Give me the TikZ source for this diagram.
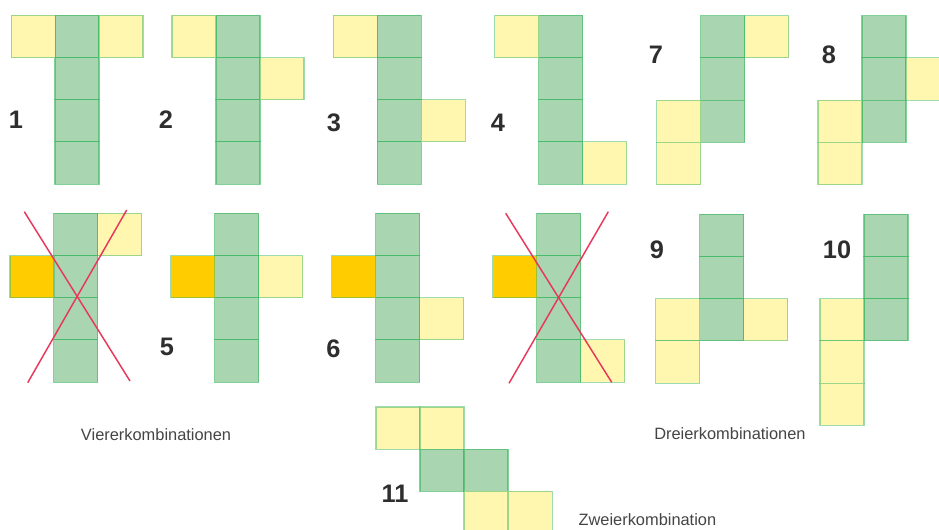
\documentclass[tikz,border=0pt]{standalone}
\usepackage{fontspec}
\setmainfont{Liberation Sans}
\definecolor{gfill}{HTML}{A9D5B0}
\definecolor{yfill}{HTML}{FFF6B0}
\definecolor{ofill}{HTML}{FFCC00}
\definecolor{edge}{HTML}{3DB862}
\definecolor{xred}{HTML}{E8385A}
\definecolor{numcol}{HTML}{2E2E2E}
\definecolor{capcol}{HTML}{444444}
\tikzset{
  gcell/.style={fill=gfill,draw=edge,draw opacity=0.65,line width=0.8pt},
  ycell/.style={fill=yfill,draw=edge,draw opacity=0.5,line width=0.8pt},
  ocell/.style={fill=ofill,draw=edge,draw opacity=0.5,line width=0.8pt},
  xline/.style={draw=xred,line width=1.1pt},
  num/.style={font=\fontsize{19}{19}\selectfont\bfseries,text=numcol,inner sep=0pt},
  captxt/.style={font=\fontsize{12.3}{14}\selectfont,text=capcol,inner sep=0pt,anchor=west}
}
\newcommand{\sq}[3]{\draw[#1] (#2,#3) rectangle ++(44,42.2);}
\begin{document}
\begin{tikzpicture}[x=0.75pt,y=-0.75pt]
\useasboundingbox (0,0) rectangle (939,529);
\clip (0,0) rectangle (939,529);
% shape 1
\foreach \r in {15.3,57.5,99.7,141.9} {\sq{gcell}{55}{\r}}
\sq{ycell}{11.3}{15.3}\sq{ycell}{99}{15.3}
\node[num] (n1) at (16,120) {1};
% shape 2
\foreach \r in {15.3,57.5,99.7,141.9} {\sq{gcell}{216}{\r}}
\sq{ycell}{172}{15.3}\sq{ycell}{260}{57.5}
\node[num] (n2) at (166,120) {2};
% shape 3
\foreach \r in {15.3,57.5,99.7,141.9} {\sq{gcell}{377.3}{\r}}
\sq{ycell}{333.3}{15.3}\sq{ycell}{421.3}{99.7}
\node[num] (n3) at (334,123) {3};
% shape 4
\foreach \r in {15.3,57.5,99.7,141.9} {\sq{gcell}{538.5}{\r}}
\sq{ycell}{494.5}{15.3}\sq{ycell}{582.5}{141.9}
\node[num] (n4) at (498,123) {4};
% shape 7
\foreach \r in {15.7,57.9,100.1} {\sq{gcell}{700.7}{\r}}
\sq{ycell}{744.7}{15.7}\sq{ycell}{656.7}{100.1}\sq{ycell}{656.7}{142.3}
\node[num] (n7) at (656,55) {7};
% shape 8
\foreach \r in {15.7,57.9,100.1} {\sq{gcell}{862}{\r}}
\sq{ycell}{906}{57.9}\sq{ycell}{818}{100.1}\sq{ycell}{818}{142.3}
\node[num] (n8) at (829,55) {8};
% crossed shape 1
\foreach \r in {213.3,255.5,297.7,339.9} {\sq{gcell}{53.5}{\r}}
\sq{ycell}{97.5}{213.3}\sq{ocell}{10}{255.5}
\draw[xline] (24.3,211.7) -- (130,381);
\draw[xline] (126.7,210) -- (27.7,382.7);
% shape 5
\foreach \r in {213.3,255.5,297.7,339.9} {\sq{gcell}{214.5}{\r}}
\sq{ocell}{170.7}{255.5}\sq{ycell}{258.5}{255.5}
\node[num] (n5) at (167,346.7) {5};
% shape 6
\foreach \r in {213.3,255.5,297.7,339.9} {\sq{gcell}{375.8}{\r}}
\sq{ocell}{331.8}{255.5}\sq{ycell}{419.8}{297.7}
\node[num] (n6) at (333.5,348.3) {6};
% crossed shape 2
\foreach \r in {213.3,255.5,297.7,339.9} {\sq{gcell}{536.8}{\r}}
\sq{ocell}{492.8}{255.5}\sq{ycell}{580.8}{339.9}
\draw[xline] (505.7,213.3) -- (611.7,382.3);
\draw[xline] (608.3,211.7) -- (509,383.3);
% shape 9
\foreach \r in {214.3,256.5,298.7} {\sq{gcell}{699.5}{\r}}
\sq{ycell}{655.5}{298.7}\sq{ycell}{655.5}{340.9}\sq{ycell}{743.5}{298.7}
\node[num] (n9) at (657,249.3) {9};
% shape 10
\foreach \r in {214.3,256.5,298.7} {\sq{gcell}{864}{\r}}
\sq{ycell}{820}{298.7}\sq{ycell}{820}{340.9}\sq{ycell}{820}{383.1}
\node[num] (n10) at (837,249.3) {10};
% shape 11
\sq{ycell}{376}{407}\sq{ycell}{420}{407}
\sq{gcell}{420}{449.2}\sq{gcell}{464}{449.2}
\sq{ycell}{464}{491.4}\sq{ycell}{508.2}{491.4}
\node[num] (n11) at (395,493.3) {11};
% captions
\node[captxt] (c4) at (80.7,435) {Viererkombinationen};
\node[captxt] (c3) at (654,433.5) {Dreierkombinationen};
\node[captxt] (c2) at (578.3,520) {Zweierkombination};
\end{tikzpicture}
\end{document}
